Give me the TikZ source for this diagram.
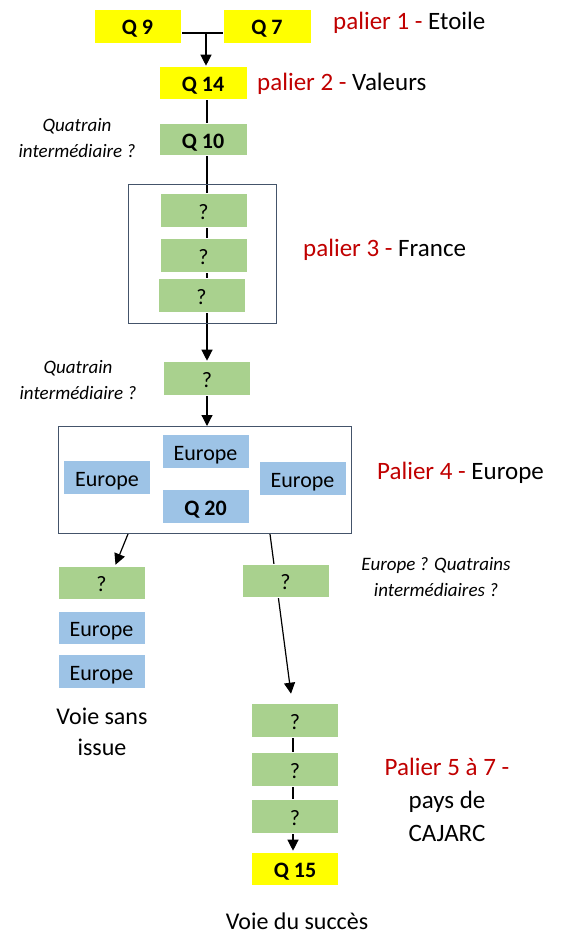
\documentclass[tikz,border=0pt]{standalone}
\usepackage{fontspec}
\setmainfont{Carlito}
\usetikzlibrary{arrows.meta,backgrounds}
\definecolor{qyellow}{HTML}{FFFF00}
\definecolor{qgreen}{HTML}{A9D18E}
\definecolor{qblue}{HTML}{9DC3E6}
\definecolor{qred}{HTML}{C00000}
\definecolor{frame}{HTML}{44546A}
\begin{document}
\begin{tikzpicture}[x=1pt,y=-1pt,
  box/.style={minimum width=87pt, minimum height=34pt, inner sep=0pt, text height=18pt, text depth=0pt, draw=white, line width=0.6pt, font=\fontsize{22}{26}\selectfont},
  ybox/.style={box, fill=qyellow, font=\fontsize{22}{26}\selectfont\bfseries},
  gbox/.style={box, fill=qgreen},
  bbox/.style={box, fill=qblue},
  gboxb/.style={gbox, font=\fontsize{22}{26}\selectfont\bfseries},
  bboxb/.style={bbox, font=\fontsize{22}{26}\selectfont\bfseries},
  grp/.style={draw=frame, line width=1pt, inner sep=0pt},
  link/.style={line width=1.2pt},
  arr/.style={link, -{Triangle[length=11pt,width=11pt]}},
  lbl/.style={font=\fontsize{25}{30}\selectfont, anchor=west, inner sep=0pt},
  note/.style={font=\fontsize{19}{26}\selectfont\itshape, align=center, inner sep=0pt},
  capt/.style={font=\fontsize{24}{31}\selectfont, align=center, inner sep=0pt}]
\useasboundingbox (0,0) rectangle (564,950);

% palier 1 & 2
\node[ybox, minimum width=87pt] (q9) at (137.5,26) {Q 9};
\node[ybox, minimum width=88pt] (q7) at (267,26) {Q 7};
\node[ybox, minimum width=88pt, minimum height=33pt] (q14) at (203,82.5) {Q 14};
\node[gboxb, minimum width=88pt, minimum height=32pt] (q10) at (203,139) {Q 10};
\coordinate (jn) at (206,33);

% palier 3
\node[grp, minimum width=148pt, minimum height=139pt] (fbox) at (202,253.5) {};
\node[gbox] (f1) at (203.5,210) {?};
\node[gbox] (f2) at (203.5,255) {?};
\node[gbox] (f3) at (201.5,295) {?};
\node[gbox] (f4) at (207,378) {?};

% palier 4
\node[grp, minimum width=293pt, minimum height=107pt] (ebox) at (204.5,480) {};
\node[bbox] (e1) at (205.5,451) {Europe};
\node[bbox] (e2) at (107,477.5) {Europe};
\node[bbox] (e3) at (302.5,478) {Europe};
\node[bboxb] (q20) at (205.5,506) {Q 20};

% voie sans issue
\node[gbox, minimum height=33pt] (l1) at (101.5,582.5) {?};
\node[bbox, minimum height=33pt] (l2) at (101.5,627.5) {Europe};
\node[bbox] (l3) at (101.5,671) {Europe};

% voie du succes
\node[gbox, minimum height=33pt] (r0) at (285.5,580.5) {?};
\node[gbox] (r1) at (295,720) {?};
\node[gbox] (r2) at (295,769) {?};
\node[gbox] (r3) at (295,816) {?};
\node[ybox, minimum height=33pt] (q15) at (295,868.5) {Q 15};

% labels
\node[lbl] (t1) at (333,23) {\textcolor{qred}{palier 1 -} Etoile};
\node[lbl] (t2) at (257,84) {\textcolor{qred}{palier 2 -} Valeurs};
\node[lbl] (t3) at (303,250) {\textcolor{qred}{palier 3 -} France};
\node[lbl] (t4) at (377,473) {\textcolor{qred}{Palier 4 -} Europe};
\node[font=\fontsize{25}{33}\selectfont, align=center, inner sep=0pt] (t5) at (447,800) {\textcolor{qred}{Palier 5 à 7 -}\\pays de\\CAJARC};
\node[note] (n1) at (77,138) {Quatrain\\intermédiaire ?};
\node[note] (n2) at (78,380) {Quatrain\\intermédiaire ?};
\node[note] (n3) at (436,577) {Europe ? Quatrains\\intermédiaires ?};
\node[capt] (c1) at (102,732) {Voie sans\\issue};
\node[capt] (c2) at (297,921) {Voie du succès};

% connectors
\begin{scope}[on background layer]
\draw[link] (q9.east|-jn) -- (q7.west|-jn);
\draw[arr] (jn) -- (jn|-q14.north);
\draw[link] ([xshift=4pt]q14.south) -- ([xshift=4pt]q10.north);
\draw[arr] ([xshift=4pt]q10.south) -- (f4.north);
\draw[arr] (f4.south) -- (f4.south|-ebox.north);
\draw[arr] ([xshift=-76.5pt]ebox.south) -- ([xshift=14pt,yshift=1pt]l1.north);
\draw[arr] ([xshift=65.5pt]ebox.south) -- ([xshift=-4pt,yshift=9pt]r1.north);
\draw[arr] ([xshift=-2pt]r1.south) -- ([xshift=-2pt,yshift=1pt]q15.north);
\end{scope}
\end{tikzpicture}
\end{document}
